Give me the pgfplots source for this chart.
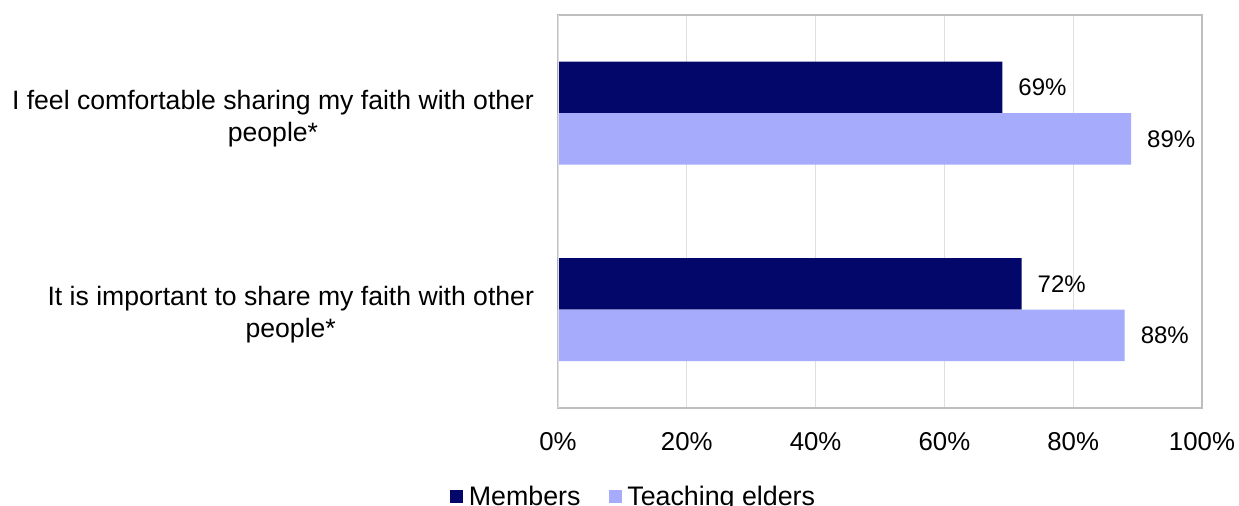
\documentclass[border=0pt]{standalone}
\usepackage{fontspec}
\setmainfont{Liberation Sans}
\usepackage{pgfplots}
\pgfplotsset{compat=1.18}
\definecolor{members}{HTML}{03076A}
\definecolor{teach}{HTML}{A6ABFB}
\definecolor{gridc}{HTML}{DEDEE6}
\definecolor{boxc}{HTML}{BEBEBE}
\begin{document}
\begin{tikzpicture}
\path[use as bounding box] (-279pt,-49pt) rectangle (340.5pt,204pt);
\begin{axis}[
  at={(0,0)}, anchor=south west,
  scale only axis, width=322pt, height=196.5pt,
  xbar, y dir=reverse,
  xmin=0, xmax=100, ymin=-0.5, ymax=1.5,
  xtick={0,20,...,100},
  xticklabel={\pgfmathprintnumber{\tick}\%},
  ytick={0,1},
  yticklabels={{I feel comfortable sharing my faith with other\\people*},{It is important to share my faith with other\\people*}},
  yticklabel style={align=center, anchor=east, xshift=-8.5pt, yshift=-2.5pt, font=\fontsize{13.3}{16}\selectfont},
  xticklabel style={yshift=-8.5pt, font=\fontsize{12.9}{16}\selectfont},
  major tick length=0pt,
  xmajorgrids, grid style={draw=gridc, line width=0.6pt},
  axis line style={draw=boxc, line width=0.8pt},
  font=\fontsize{12.5}{16}\selectfont,
  /pgf/number format/assume math mode=true,
  bar width=25.75pt,
  point meta=x,
  nodes near coords={\pgfmathprintnumber[precision=0]{\pgfplotspointmeta}\%},
  nodes near coords style={anchor=west, xshift=4.5pt, font=\fontsize{12}{16}\selectfont},
  legend columns=2,
  legend style={at={(rel axis cs:0.118,-0.226)}, anchor=center, draw=none, fill=none,
    font=\fontsize{13.4}{16}\selectfont,
    /tikz/every even column/.append style={column sep=13pt},
    nodes={inner sep=1.2pt}},
  legend image code/.code={\fill[#1] (0pt,-3.25pt) rectangle (6.5pt,3.25pt);},
  legend cell align=left,
]
\addplot[fill=members, draw=none, bar shift=12.875pt] coordinates {(69,0) (72,1)};
\addplot[fill=teach, draw=none, bar shift=-12.875pt] coordinates {(89,0) (88,1)};
\legend{\hspace{1.5pt}Members, \hspace{1.5pt}Teaching elders}
\draw[gridc, line width=0.9pt] (rel axis cs:0,0) -- (rel axis cs:0,1);
\end{axis}
\end{tikzpicture}
\end{document}
